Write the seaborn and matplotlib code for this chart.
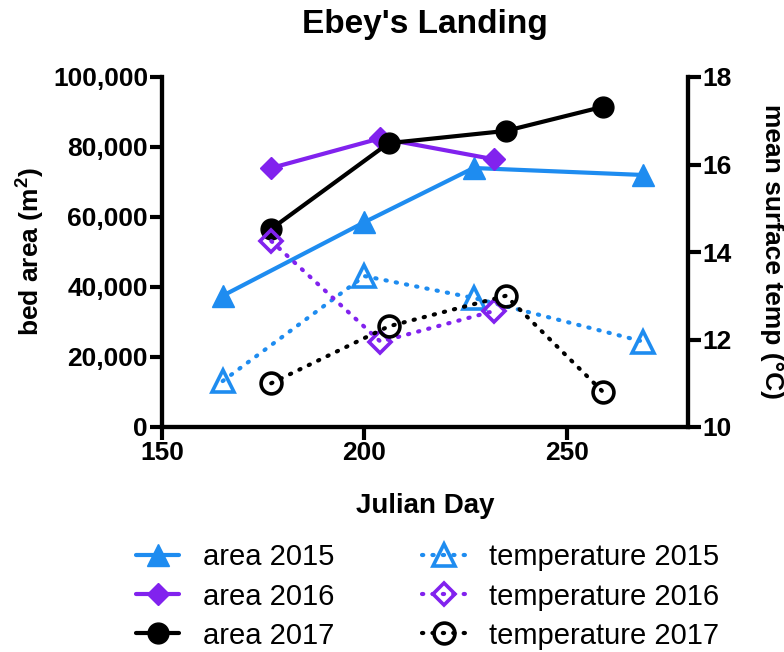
import matplotlib
matplotlib.use("Agg")
import matplotlib.pyplot as plt
import matplotlib.ticker as mticker
import seaborn as sns
import pandas as pd

# ---- data ----
day_2015 = [165, 200, 227, 269]
day_2016 = [177, 204, 232]
day_2017 = [177, 206, 235, 259]
area_2015 = [37500, 58500, 74000, 72000]
area_2016 = [74000, 82500, 76500]
area_2017 = [56600, 81100, 84600, 91500]
temp_2015 = [11.05, 13.45, 12.95, 11.95]
temp_2016 = [14.25, 11.95, 12.65]
temp_2017 = [11.0, 12.3, 13.0, 10.8]

x_ticks = [150, 200, 250]
area_ticks = [0, 20000, 40000, 60000, 80000, 100000]
temp_ticks = [10, 12, 14, 16, 18]

c2015 = "#1E8CF0"
c2016 = "#8122EE"
c2017 = "#000000"

sns.set_theme(style="ticks")
plt.rcParams["font.family"] = ["Liberation Sans", "DejaVu Sans"]
plt.rcParams["mathtext.fontset"] = "custom"
plt.rcParams["mathtext.rm"] = "Liberation Sans:bold"
plt.rcParams["mathtext.bf"] = "Liberation Sans:bold"
plt.rcParams["mathtext.default"] = "bf"
for k in ("text.color", "axes.labelcolor", "xtick.color", "ytick.color",
          "axes.edgecolor", "xtick.labelcolor", "ytick.labelcolor"):
    plt.rcParams[k] = "black"

fig = plt.figure(figsize=(7.84, 6.52), dpi=100)
ax = fig.add_axes([162 / 784, 1 - 427 / 652, (688 - 162) / 784, (427 - 77) / 652])
ax2 = ax.twinx()

def draw(axis, x, y, color, marker, ms, filled, label):
    df = pd.DataFrame({"x": x, "y": y})
    kw = dict(color=color, marker=marker, markersize=ms, linewidth=3,
              estimator=None, sort=False, label=label, ax=axis, legend=False)
    if filled:
        sns.lineplot(data=df, x="x", y="y", linestyle="-",
                     markerfacecolor=color, markeredgecolor=color,
                     markeredgewidth=1, **kw)
    else:
        sns.lineplot(data=df, x="x", y="y", linestyle=(0, (0.3, 2.2)),
                     dash_capstyle="round", fillstyle="none",
                     markerfacecolor="none", markeredgecolor=color,
                     markeredgewidth=2.6, **kw)

draw(ax, day_2015, area_2015, c2015, "^", 16, True, "area 2015")
draw(ax, day_2016, area_2016, c2016, "D", 11, True, "area 2016")
draw(ax, day_2017, area_2017, c2017, "o", 15, True, "area 2017")
draw(ax2, day_2015, temp_2015, c2015, "^", 16, False, "temperature 2015")
draw(ax2, day_2016, temp_2016, c2016, "D", 11, False, "temperature 2016")
draw(ax2, day_2017, temp_2017, c2017, "o", 15, False, "temperature 2017")

ax.set_xlim(150, 280)
ax.set_ylim(0, 100000)
ax2.set_ylim(10, 18)
ax.set_xticks(x_ticks)
ax.set_yticks(area_ticks)
ax2.set_yticks(temp_ticks)
ax.yaxis.set_major_formatter(mticker.FuncFormatter(lambda v, p: f"{int(v):,}"))

for a in (ax, ax2):
    for s in a.spines.values():
        s.set_linewidth(3)
        s.set_color("black")
    a.spines["top"].set_visible(False)
    a.tick_params(width=3, length=9, labelsize=19, color="black", pad=1)
    for lab in a.get_xticklabels() + a.get_yticklabels():
        lab.set_fontweight("bold")

ax.set_xlabel("Julian Day", fontsize=20, fontweight="bold", labelpad=20)
ax.set_ylabel("bed area (m$^2$)", fontsize=19, fontweight="bold", labelpad=4)
ax2.set_ylabel("mean surface temp (°C)", fontsize=19, fontweight="bold",
               rotation=270, labelpad=38)
ax.set_title("Ebey's Landing", fontsize=24, fontweight="bold", pad=32)

h1, l1 = ax.get_legend_handles_labels()
h2, l2 = ax2.get_legend_handles_labels()
fig.legend(h1 + h2, l1 + l2, ncol=2, loc="center", bbox_to_anchor=(0.545, 0.085),
           frameon=False, fontsize=21, handlelength=1.5, handletextpad=0.8,
           columnspacing=3.0, labelspacing=0.38)

fig.savefig("out.png", dpi=100)
